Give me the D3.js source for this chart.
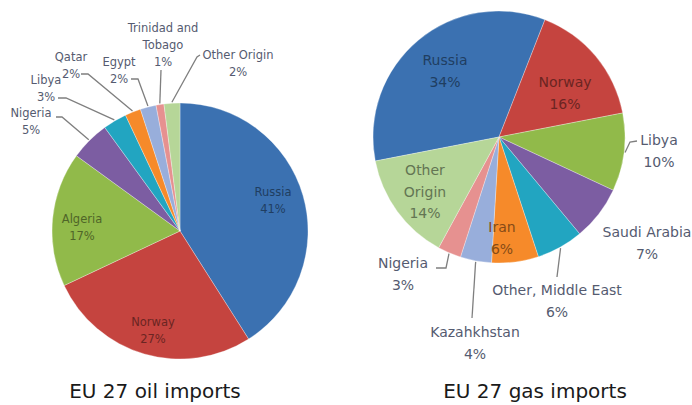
<!DOCTYPE html>
<html>
<head>
<meta charset="utf-8">
<script src="https://cdn.jsdelivr.net/npm/d3@7"></script>
<style>
  body { margin: 0; background: #fff; }
  svg { display: block; }
  text { font-family: "DejaVu Sans", Verdana, sans-serif; }
</style>
</head>
<body>
<div id="chart"></div>
<script>
// data
var oilCountries = ["Russia", "Norway", "Algeria", "Nigeria", "Libya", "Qatar", "Egypt", "Trinidad and Tobago", "Other Origin"];
var oilValues    = [41, 27, 17, 5, 3, 2, 2, 1, 2];

var gasCountries = ["Russia", "Norway", "Libya", "Saudi Arabia", "Other, Middle East", "Iran", "Kazahkhstan", "Nigeria", "Other Origin"];
var gasValues    = [34, 16, 10, 7, 6, 6, 4, 3, 14];

// slice colours, same order for both pies
var palette = ["#3b71b1", "#c5443f", "#91ba4a", "#7c5da2", "#22a5c1", "#f68a2a", "#98aedb", "#e69190", "#b6d698"];

var width = 692, height = 405;

var svg = d3.select("#chart")
  .append("svg")
    .attr("width", width)
    .attr("height", height)
    .style("background", "white");

// label layout: text lines and position, optional leader line end points
var oilLabels = [
  { lines: ["Russia", "41%"], x: 273, y: 192, inside: true },
  { lines: ["Norway", "27%"], x: 153, y: 322, inside: true },
  { lines: ["Algeria", "17%"], x: 82, y: 219, inside: true },
  { lines: ["Nigeria", "5%"], x: 31, y: 113, leader: [[56, 117], [62, 117]] },
  { lines: ["Libya", "3%"], x: 46, y: 80, leader: [[58, 98], [66, 98]] },
  { lines: ["Qatar", "2%"], x: 71, y: 57, leader: [[81, 74], [88, 74]] },
  { lines: ["Egypt", "2%"], x: 119, y: 62, leader: [[131, 79], [138, 79]] },
  { lines: ["Trinidad and", "Tobago", "1%"], x: 163, y: 28, leader: [[161, 70]] },
  { lines: ["Other Origin", "2%"], x: 238, y: 55, leader: [[200, 55], [197, 57]] }
];

var gasLabels = [
  { lines: ["Russia", "34%"], x: 445, y: 60, inside: true },
  { lines: ["Norway", "16%"], x: 565, y: 82, inside: true },
  { lines: ["Libya", "10%"], x: 659, y: 140, leader: [[637, 141], [630, 142]] },
  { lines: ["Saudi Arabia", "7%"], x: 647, y: 232 },
  { lines: ["Other, Middle East", "6%"], x: 557, y: 290, leader: [[557, 277]] },
  { lines: ["Iran", "6%"], x: 502, y: 227, inside: true },
  { lines: ["Kazahkhstan", "4%"], x: 475, y: 332, leader: [[472, 318]] },
  { lines: ["Nigeria", "3%"], x: 403, y: 263, leader: [[436, 268], [446, 268]] },
  { lines: ["Other", "Origin", "14%"], x: 425, y: 170, inside: true }
];

function drawPie(opts) {
  var data = opts.names.map(function(n, i){ return { name: n, value: opts.values[i], i: i }; });

  var pie = d3.pie()
    .sort(null)
    .value(function(d){ return d.value; })
    .startAngle(opts.start)
    .endAngle(opts.start + 2 * Math.PI);

  var arc = d3.arc().innerRadius(0).outerRadius(opts.r);

  var g = svg.append("g")
    .attr("transform", "translate(" + opts.cx + "," + opts.cy + ")");

  var arcs = pie(data);

  g.selectAll("path")
    .data(arcs)
    .enter()
    .append("path")
      .attr("d", arc)
      .attr("fill", function(d){ return palette[d.data.i]; })
      .attr("stroke", "#ffffff")
      .attr("stroke-opacity", 0.5)
      .attr("stroke-width", 0.6);

  // leader lines from slice edge
  arcs.forEach(function(a, i) {
    var lab = opts.labels[i];
    if (!lab.leader) return;
    var mid = (a.startAngle + a.endAngle) / 2;
    var p0 = [opts.cx + Math.sin(mid) * (opts.r + 1), opts.cy - Math.cos(mid) * (opts.r + 1)];
    var pts = lab.leader.slice().reverse();
    pts.unshift(p0);
    svg.append("path")
      .attr("d", d3.line()(pts))
      .attr("fill", "none")
      .attr("stroke", "#7f7f7f")
      .attr("stroke-width", 1.3);
  });

  // labels
  opts.labels.forEach(function(lab, i) {
    var fill = lab.inside ? d3.color(palette[i]).darker(1.7).formatHex() : "#555b70";
    var t = svg.append("text")
      .attr("text-anchor", "middle")
      .attr("font-size", opts.fontSize)
      .attr("fill", fill);
    lab.lines.forEach(function(line, k) {
      t.append("tspan")
        .attr("x", lab.x)
        .attr("y", lab.y + k * opts.lineH + opts.fontSize * 0.36)
        .text(line);
    });
  });

  svg.append("text")
    .attr("x", opts.titleX)
    .attr("y", 398)
    .attr("text-anchor", "middle")
    .attr("font-size", 20)
    .attr("fill", "#1a1a1a")
    .text(opts.title);
}

drawPie({
  names: oilCountries, values: oilValues, labels: oilLabels,
  cx: 180, cy: 231, r: 128, start: 0,
  fontSize: 11.5, lineH: 17,
  title: "EU 27 oil imports", titleX: 155
});

drawPie({
  names: gasCountries, values: gasValues, labels: gasLabels,
  cx: 499, cy: 137, r: 126, start: -101 * Math.PI / 180,
  fontSize: 14, lineH: 21.5,
  title: "EU 27 gas imports", titleX: 535
});
</script>
</body>
</html>
